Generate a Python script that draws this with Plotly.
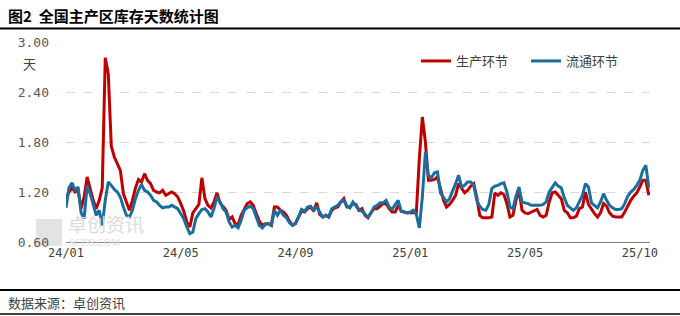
import plotly.graph_objects as go

# ---- data ----
tick_labels = ["24/01", "24/05", "24/09", "25/01", "25/05", "25/10"]
tick_index = [0, 38, 76, 114, 152, 190]

production = [
    1.12, 1.20, 1.25, 1.20, 1.22, 1.00, 1.14, 1.38, 1.24, 1.10,
    1.00, 1.10, 1.25, 2.81, 2.62, 1.75, 1.62, 1.54, 1.46, 1.18,
    1.08, 0.98, 1.10, 1.25, 1.35, 1.32, 1.42, 1.34, 1.30, 1.22,
    1.20, 1.19, 1.22, 1.16, 1.18, 1.20, 1.18, 1.14, 1.06, 0.97,
    0.84, 0.78, 0.95, 1.00, 1.05, 1.37, 1.12, 1.04, 1.01, 1.08,
    1.19, 1.07, 1.02, 0.98, 0.87, 0.90, 0.82, 0.81, 0.92, 1.00,
    1.06, 1.08, 1.04, 0.94, 0.85, 0.80, 0.82, 0.82, 0.80, 1.02,
    1.02, 0.98, 0.96, 0.92, 0.85, 0.80, 0.82, 0.90, 0.97, 0.96,
    1.00, 1.02, 0.97, 1.07, 0.93, 0.90, 0.92, 0.90, 0.98, 1.01,
    1.02, 1.08, 1.12, 1.02, 1.02, 1.06, 1.05, 0.98, 1.00, 0.92,
    0.89, 0.95, 1.00, 1.00, 1.03, 1.06, 1.06, 1.00, 0.96, 0.96,
    1.04, 0.97, 0.96, 0.95, 0.95, 0.95, 0.95, 1.60, 2.10, 1.80,
    1.34, 1.34, 1.35, 1.38, 1.25, 1.10, 1.02, 1.05, 1.10, 1.16,
    1.30, 1.24, 1.19, 1.22, 1.27, 1.30, 1.14, 0.92, 0.89, 0.89,
    0.89, 0.90, 1.19, 1.16, 1.19, 1.17, 1.06, 0.90, 0.92, 1.10,
    1.22, 0.98, 0.95, 0.94, 0.96, 0.97, 0.99, 0.92, 0.90, 0.92,
    1.08, 1.19, 1.20, 1.16, 1.12, 0.98, 0.95, 0.89, 0.89, 0.91,
    1.00, 1.02, 1.20, 1.05, 0.99, 0.94, 0.90, 0.95, 1.06, 1.03,
    0.95, 0.91, 0.90, 0.90, 0.90, 0.96, 1.03, 1.10, 1.15, 1.19,
    1.26, 1.34, 1.34, 1.16,
]

circulation = [
    1.01, 1.25, 1.31, 1.22, 1.26, 0.95, 0.88, 1.27, 1.18, 1.06,
    0.92, 0.98, 0.80, 1.10, 1.32, 1.28, 1.23, 1.20, 1.14, 1.02,
    0.92, 0.90, 0.98, 1.12, 1.22, 1.29, 1.22, 1.20, 1.16, 1.10,
    1.08, 1.04, 1.01, 1.02, 1.02, 1.04, 1.02, 1.00, 0.94, 0.88,
    0.78, 0.70, 0.72, 0.88, 0.94, 0.99, 1.00, 0.96, 0.90, 1.00,
    1.14, 1.08, 1.00, 0.96, 0.84, 0.78, 0.80, 0.77, 0.86, 0.98,
    1.01, 1.03, 1.00, 0.90, 0.80, 0.77, 0.81, 0.82, 0.80, 0.98,
    0.92, 0.98, 0.92, 0.89, 0.83, 0.80, 0.83, 0.90, 0.99, 0.97,
    1.02, 1.03, 0.98, 1.02, 0.96, 0.90, 0.92, 0.90, 1.00, 1.02,
    1.04, 1.08, 1.10, 1.03, 1.01, 1.08, 1.04, 0.99, 0.97, 0.94,
    0.90, 0.95, 1.02, 1.04, 1.07, 1.07, 1.10, 1.02, 0.99, 1.05,
    1.10, 0.97, 0.96, 0.95, 0.96, 0.98, 0.93, 0.77, 1.14, 1.68,
    1.40, 1.37, 1.43, 1.44, 1.19, 1.14, 1.08, 1.12, 1.20, 1.30,
    1.40, 1.26, 1.28, 1.32, 1.32, 1.28, 1.10, 1.03, 0.99, 0.98,
    1.05, 1.24, 1.27, 1.28, 1.30, 1.31, 1.20, 1.02, 1.00, 1.15,
    1.26, 1.08, 1.07, 1.06, 1.04, 1.04, 1.04, 1.04, 1.05, 1.08,
    1.20, 1.26, 1.31, 1.27, 1.25, 1.13, 1.04, 1.01, 0.98, 1.01,
    1.08, 1.16, 1.30, 1.26, 1.07, 1.04, 1.01, 1.08, 1.18, 1.10,
    1.04, 1.01, 0.99, 0.99, 1.00, 1.06, 1.15, 1.20, 1.23, 1.28,
    1.34, 1.46, 1.52, 1.25,
]

series_names = ["生产环节", "流通环节"]
series_colors = ["#C00000", "#1A6E9E"]
y_ticks = [0.60, 1.20, 1.80, 2.40, 3.00]

title_text = "图2  全国主产区库存天数统计图"
source_text = "数据来源：卓创资讯"
unit_text = "天"

# ---- figure ----
W, H = 680, 316
L, R, T, B = 66, 30, 42, 74
pw, ph = W - L - R, H - T - B

def px_x(p):
    return (p - L) / pw

def px_y(p):
    return (H - B - p) / ph

cjk = "Noto Sans CJK SC"
fig = go.Figure()
legend_ids = ["legend", "legend2"]
for name, vals, col, lg in zip(series_names, [production, circulation], series_colors, legend_ids):
    fig.add_trace(go.Scatter(
        x=list(range(len(vals))), y=vals, mode="lines", name=name,
        line=dict(color=col, width=3), legend=lg,
    ))

legend_common = dict(
    orientation="h", xanchor="left", yanchor="top",
    font=dict(family=cjk, size=13, color="#404040"),
    bgcolor="rgba(0,0,0,0)", itemwidth=30,
)

fig.update_layout(
    width=W, height=H,
    margin=dict(l=L, r=R, t=T, b=B),
    paper_bgcolor="white", plot_bgcolor="white",
    font=dict(family=cjk, color="#404040", size=13),
    showlegend=True,
    legend=dict(x=px_x(416), y=px_y(46), **legend_common),
    legend2=dict(x=px_x(526), y=px_y(46), **legend_common),
    xaxis=dict(
        range=[0, (650 - L) / 3.02], tickmode="array",
        tickvals=tick_index, ticktext=tick_labels,
        showgrid=False, zeroline=False,
        showline=True, linecolor="#808080", linewidth=1,
        ticks="", tickfont=dict(family="DejaVu Sans Mono", size=12, color="#404040"),
    ),
    yaxis=dict(
        range=[0.6, 3.0], tickmode="array", tickvals=y_ticks,
        ticktext=[f"{v:.2f}" for v in y_ticks],
        showgrid=True, gridcolor="#D9D9D9", griddash="dash", gridwidth=1,
        zeroline=False, showline=False, ticks="", ticklen=0,
        tickfont=dict(family="DejaVu Sans Mono", size=13, color="#595959"),
        ticklabelstandoff=16,
    ),
)

# watermark (behind data)
fig.add_shape(type="rect", xref="paper", yref="paper", layer="below",
              x0=px_x(36), x1=px_x(62), y0=px_y(246), y1=px_y(219),
              fillcolor="#E3E3E3", line=dict(width=0))
fig.add_annotation(text="卓创资讯", xref="paper", yref="paper",
                   x=px_x(66), y=px_y(223), xanchor="left", yanchor="middle",
                   showarrow=False, font=dict(family=cjk, size=19, color="#DCDCDC"))
fig.add_annotation(text="SCI99.COM", xref="paper", yref="paper",
                   x=px_x(67), y=px_y(242), xanchor="left", yanchor="middle",
                   showarrow=False, font=dict(family="Liberation Serif", size=10, color="#DCDCDC"))

# title, unit, source
fig.add_annotation(text=title_text, xref="paper", yref="paper",
                   x=px_x(6), y=px_y(15), xanchor="left", yanchor="middle",
                   showarrow=False, font=dict(family=cjk, size=15, color="#000000", weight="bold"))
fig.add_annotation(text=unit_text, xref="paper", yref="paper",
                   x=px_x(29), y=px_y(63), xanchor="center", yanchor="middle",
                   showarrow=False, font=dict(family=cjk, size=13, color="#404040"))
fig.add_annotation(text=source_text, xref="paper", yref="paper",
                   x=px_x(6), y=px_y(302), xanchor="left", yanchor="middle",
                   showarrow=False, font=dict(family=cjk, size=13, color="#404040"))

for yy, wdt in [(28.5, 2), (290, 2), (314, 1.5)]:
    fig.add_shape(type="line", xref="paper", yref="paper",
                  x0=px_x(0), x1=px_x(680), y0=px_y(yy), y1=px_y(yy),
                  line=dict(color="#000000", width=wdt))

fig.write_html("out.html")
